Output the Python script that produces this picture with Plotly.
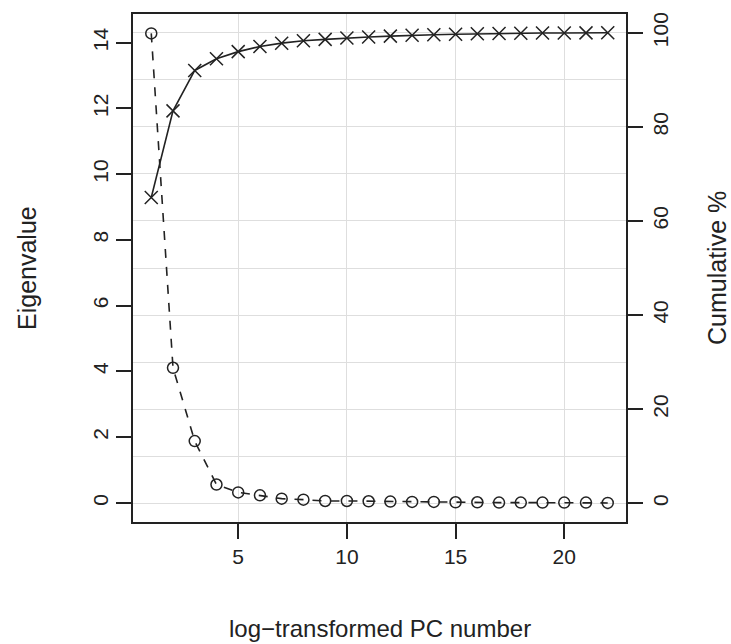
import plotly.graph_objects as go

# Principal components 1..22
pc_number = list(range(1, 23))

# Eigenvalue of each component
eigenvalues = [14.28, 4.11, 1.88, 0.56, 0.32, 0.23, 0.13, 0.10, 0.06, 0.06, 0.05,
               0.04, 0.03, 0.03, 0.02, 0.02, 0.01, 0.01, 0.01, 0.01, 0.01, 0.00]

# Cumulative percentage of variance explained
cumulative_pct = [65.0, 83.4, 92.0, 94.5, 96.0, 97.1, 97.8, 98.3, 98.6, 98.9, 99.1,
                  99.3, 99.5, 99.6, 99.7, 99.8, 99.85, 99.9, 99.95, 99.97, 99.99, 100.0]

x_ticks = [5, 10, 15, 20]
eig_ticks = [0, 2, 4, 6, 8, 10, 12, 14]
cum_ticks = [0, 20, 40, 60, 80, 100]
cum_grid = [0, 10, 20, 30, 40, 50, 60, 70, 80, 90, 100]

X_RANGE = [0.16, 22.84]
EIG_RANGE = [-0.58, 14.87]
CUM_RANGE = [-4, 104]

FONT = "Liberation Sans, Arial, sans-serif"
INK = "#222222"
GRID = "#dedede"

fig = go.Figure()

# Grid-only subplot: a trace with no visible marks so the grid axes are built
fig.add_trace(go.Scatter(
    x=pc_number, y=cumulative_pct, mode="none", hoverinfo="skip",
    xaxis="x2", yaxis="y3", showlegend=False,
))

fig.add_trace(go.Scatter(
    x=pc_number, y=eigenvalues, mode="lines+markers",
    line=dict(color=INK, width=1.6, dash="dash"),
    marker=dict(symbol="circle-open", size=11, color=INK, line=dict(width=1.5)),
    xaxis="x", yaxis="y", showlegend=False,
))

fig.add_trace(go.Scatter(
    x=pc_number, y=cumulative_pct, mode="lines+markers",
    line=dict(color=INK, width=1.6),
    marker=dict(symbol="x-thin-open", size=13, color=INK, line=dict(width=1.5, color=INK)),
    xaxis="x", yaxis="y2", showlegend=False,
))

tick_style = dict(ticks="outside", ticklen=15, tickwidth=1.5, tickcolor=INK,
                  showline=True, linecolor=INK, linewidth=1.5,
                  showgrid=False, zeroline=False, tickfont=dict(size=21))

fig.update_layout(
    width=731, height=644,
    margin=dict(l=133, r=105, t=14, b=122),
    paper_bgcolor="white", plot_bgcolor="white",
    font=dict(family=FONT, size=21, color=INK),
    # axes carrying ticks and labels
    xaxis=dict(range=X_RANGE, tickvals=x_ticks, **tick_style),
    yaxis=dict(range=EIG_RANGE, tickvals=eig_ticks, tickangle=-90, **tick_style),
    yaxis2=dict(range=CUM_RANGE, tickvals=cum_ticks, tickangle=-90,
                overlaying="y", side="right", anchor="x", **tick_style),
    # axes carrying the light grid and the top edge of the frame
    xaxis2=dict(range=X_RANGE, tickvals=x_ticks, overlaying="x", side="top",
                anchor="y", showticklabels=False, ticks="",
                showline=True, linecolor=INK, linewidth=1.5, zeroline=False,
                showgrid=True, gridcolor=GRID, gridwidth=1),
    yaxis3=dict(range=CUM_RANGE, tickvals=cum_grid, overlaying="y", side="right",
                anchor="x2", showticklabels=False, ticks="", showline=False,
                zeroline=False, showgrid=True, gridcolor=GRID, gridwidth=1),
    annotations=[
        dict(text="Eigenvalue", xref="paper", yref="paper", x=0, y=0.5,
             xanchor="center", yanchor="middle",
             xshift=-106, textangle=-90, showarrow=False,
             font=dict(size=25, family=FONT, color=INK)),
        dict(text="Cumulative %", xref="paper", yref="paper", x=1, y=0.5,
             xanchor="center", yanchor="middle",
             xshift=91, textangle=-90, showarrow=False,
             font=dict(size=25, family=FONT, color=INK)),
        dict(text="log\u2212transformed PC number", xref="paper", yref="paper",
             x=0.5, y=0, xanchor="center", yanchor="middle", yshift=-106,
             showarrow=False, font=dict(size=24, family=FONT, color=INK)),
    ],
)

fig.write_html("out.html")
